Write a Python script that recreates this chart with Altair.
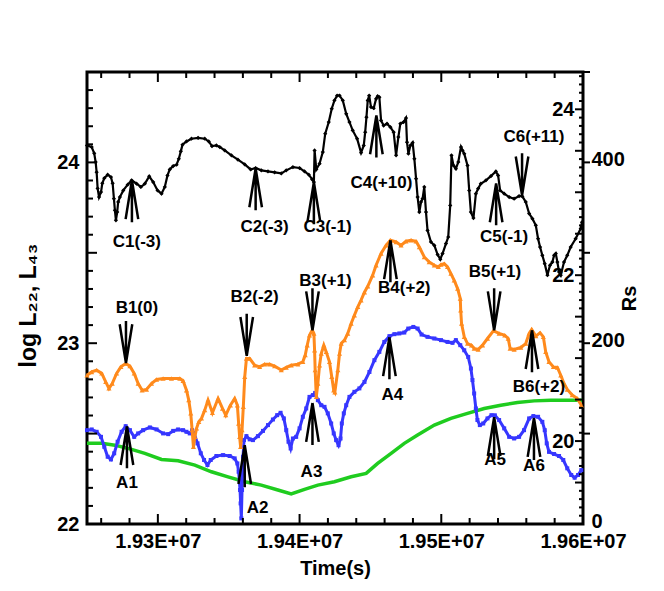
import altair as alt
import pandas as pd

# ---- data (time in units of 1E+07 s) ----
black_t = [1.92500, 1.92533, 1.92551, 1.92561, 1.92568, 1.92575, 1.92585, 1.92599, 1.92608, 1.92622,
           1.92646, 1.92669, 1.92681, 1.92690, 1.92697, 1.92704, 1.92713, 1.92720, 1.92732, 1.92756,
           1.92787, 1.92815, 1.92850, 1.92880, 1.92908, 1.92939, 1.92967, 1.92998, 1.93026, 1.93049,
           1.93068, 1.93084, 1.93108, 1.93132, 1.93148, 1.93162, 1.93174, 1.93202, 1.93237, 1.93284,
           1.93331, 1.93359, 1.93382, 1.93413, 1.93437, 1.93472, 1.93519, 1.93565, 1.93613, 1.93655,
           1.93690, 1.93730, 1.93777, 1.93824, 1.93871, 1.93906, 1.93953, 1.94000, 1.94035, 1.94065,
           1.94089, 1.94101, 1.94106, 1.94118, 1.94141, 1.94164, 1.94181, 1.94206, 1.94227, 1.94246,
           1.94265, 1.94282, 1.94305, 1.94329, 1.94352, 1.94375, 1.94406, 1.94434, 1.94453, 1.94463,
           1.94472, 1.94481, 1.94491, 1.94504, 1.94523, 1.94540, 1.94551, 1.94563, 1.94575, 1.94593,
           1.94617, 1.94641, 1.94664, 1.94681, 1.94697, 1.94711, 1.94734, 1.94751, 1.94758, 1.94768,
           1.94782, 1.94798, 1.94810, 1.94822, 1.94833, 1.94845, 1.94857, 1.94868, 1.94880, 1.94892,
           1.94903, 1.94927, 1.94951, 1.94974, 1.94993, 1.95009, 1.95033, 1.95049, 1.95063, 1.95072,
           1.95086, 1.95103, 1.95120, 1.95139, 1.95150, 1.95162, 1.95185, 1.95197, 1.95209, 1.95227,
           1.95244, 1.95260, 1.95279, 1.95315, 1.95350, 1.95385, 1.95401, 1.95415, 1.95444, 1.95479,
           1.95514, 1.95549, 1.95572, 1.95596, 1.95620, 1.95643, 1.95667, 1.95683, 1.95697, 1.95713,
           1.95730, 1.95749, 1.95767, 1.95784, 1.95796, 1.95808, 1.95819, 1.95831, 1.95843, 1.95866,
           1.95889, 1.95913, 1.95948, 1.95984, 1.95993]
black_v = [24.094, 24.085, 24.050, 24.002, 23.946, 23.856, 23.808, 23.836, 23.884, 23.913,
           23.932, 23.919, 23.884, 23.799, 23.735, 23.680, 23.725, 23.781, 23.808, 23.845,
           23.877, 23.901, 23.882, 23.864, 23.882, 23.923, 23.891, 23.845, 23.827, 23.864,
           23.928, 23.961, 23.980, 23.987, 24.020, 24.061, 24.098, 24.116, 24.131, 24.136,
           24.131, 24.116, 24.090, 24.094, 24.085, 24.066, 24.039, 24.015, 23.989, 23.961,
           23.969, 23.956, 23.950, 23.945, 23.939, 23.956, 23.974, 23.969, 23.950, 23.932,
           23.906, 23.891, 24.066, 23.961, 23.993, 24.057, 24.159, 24.223, 24.297, 24.343,
           24.370, 24.370, 24.343, 24.269, 24.223, 24.177, 24.131, 24.054, 24.094, 24.167,
           24.250, 24.343, 24.370, 24.306, 24.300, 24.352, 24.366, 24.361, 24.232, 24.204,
           24.214, 24.195, 24.167, 24.039, 24.140, 24.214, 24.223, 24.245, 24.112, 24.048,
           24.094, 24.109, 24.020, 23.910, 23.808, 23.725, 23.781, 23.799, 23.864, 23.725,
           23.624, 23.560, 23.541, 23.490, 23.464, 23.496, 23.551, 23.587, 23.762, 24.039,
           23.983, 23.965, 24.002, 24.085, 24.066, 24.048, 23.983, 23.845, 23.725, 23.692,
           23.827, 23.855, 23.882, 23.901, 23.924, 23.950, 23.928, 23.845, 23.827, 23.808,
           23.799, 23.814, 23.812, 23.781, 23.717, 23.689, 23.652, 23.578, 23.532, 23.486,
           23.440, 23.376, 23.431, 23.449, 23.486, 23.496, 23.449, 23.394, 23.376, 23.449,
           23.486, 23.532, 23.578, 23.634, 23.669]

orange_t = [1.92500, 1.92533, 1.92568, 1.92604, 1.92632, 1.92655, 1.92678, 1.92709, 1.92739, 1.92773,
            1.92803, 1.92833, 1.92861, 1.92889, 1.92920, 1.92955, 1.92991, 1.93037, 1.93096, 1.93155,
            1.93178, 1.93202, 1.93218, 1.93232, 1.93242, 1.93251, 1.93261, 1.93273, 1.93289, 1.93308,
            1.93331, 1.93354, 1.93385, 1.93425, 1.93456, 1.93479, 1.93512, 1.93542, 1.93561, 1.93570,
            1.93577, 1.93584, 1.93594, 1.93603, 1.93613, 1.93625, 1.93648, 1.93683, 1.93718, 1.93753,
            1.93789, 1.93824, 1.93871, 1.93906, 1.93941, 1.93988, 1.94023, 1.94040, 1.94054, 1.94070,
            1.94089, 1.94101, 1.94106, 1.94110, 1.94118, 1.94129, 1.94141, 1.94153, 1.94171, 1.94188,
            1.94211, 1.94227, 1.94241, 1.94249, 1.94270, 1.94282, 1.94294, 1.94317, 1.94340, 1.94364,
            1.94387, 1.94411, 1.94434, 1.94458, 1.94481, 1.94516, 1.94540, 1.94575, 1.94610, 1.94641,
            1.94681, 1.94716, 1.94751, 1.94787, 1.94822, 1.94845, 1.94880, 1.94915, 1.94951, 1.94979,
            1.94998, 1.95021, 1.95044, 1.95068, 1.95091, 1.95115, 1.95134, 1.95137, 1.95143, 1.95162,
            1.95185, 1.95213, 1.95232, 1.95260, 1.95291, 1.95326, 1.95368, 1.95408, 1.95448, 1.95472,
            1.95486, 1.95514, 1.95561, 1.95596, 1.95620, 1.95638, 1.95667, 1.95697, 1.95720, 1.95737,
            1.95760, 1.95791, 1.95819, 1.95843, 1.95866, 1.95889, 1.95924, 1.95960, 1.95988]
orange_v = [22.823, 22.841, 22.851, 22.833, 22.786, 22.750, 22.777, 22.833, 22.869, 22.888,
            22.873, 22.833, 22.777, 22.740, 22.744, 22.777, 22.799, 22.805, 22.805, 22.805,
            22.792, 22.740, 22.685, 22.612, 22.519, 22.427, 22.482, 22.529, 22.565, 22.584,
            22.630, 22.685, 22.615, 22.694, 22.639, 22.602, 22.657, 22.694, 22.657, 22.556,
            22.482, 22.427, 22.519, 22.648, 22.814, 22.915, 22.915, 22.878, 22.869, 22.884,
            22.884, 22.873, 22.851, 22.866, 22.878, 22.884, 22.897, 22.934, 22.989, 23.044,
            23.072, 23.054, 22.961, 22.851, 22.703, 22.777, 22.878, 22.943, 22.989, 22.952,
            22.897, 22.814, 22.740, 22.729, 22.851, 22.943, 22.998, 23.017, 23.054, 23.109,
            23.155, 23.201, 23.238, 23.282, 23.315, 23.376, 23.431, 23.496, 23.541, 23.569,
            23.560, 23.541, 23.564, 23.569, 23.564, 23.532, 23.477, 23.449, 23.431, 23.422,
            23.435, 23.440, 23.422, 23.385, 23.348, 23.302, 23.247, 23.182, 23.109, 23.035,
            22.998, 22.989, 22.971, 22.965, 22.989, 23.026, 23.068, 23.054, 23.044, 23.026,
            22.971, 22.965, 22.976, 22.998, 23.054, 23.076, 23.039, 23.057, 23.035, 22.952,
            22.897, 22.869, 22.866, 22.823, 22.777, 22.744, 22.713, 22.694, 22.657]

blue_t = [1.92500, 1.92533, 1.92568, 1.92599, 1.92622, 1.92646, 1.92669, 1.92692, 1.92716, 1.92744,
          1.92773, 1.92803, 1.92833, 1.92861, 1.92896, 1.92944, 1.92991, 1.93037, 1.93073, 1.93108,
          1.93143, 1.93178, 1.93202, 1.93225, 1.93242, 1.93256, 1.93280, 1.93303, 1.93326, 1.93350,
          1.93373, 1.93413, 1.93460, 1.93507, 1.93542, 1.93561, 1.93570, 1.93580, 1.93584, 1.93589,
          1.93594, 1.93601, 1.93608, 1.93625, 1.93648, 1.93671, 1.93706, 1.93742, 1.93777, 1.93812,
          1.93842, 1.93866, 1.93889, 1.93906, 1.93922, 1.93937, 1.93953, 1.93976, 1.94000, 1.94023,
          1.94047, 1.94070, 1.94094, 1.94110, 1.94129, 1.94153, 1.94176, 1.94199, 1.94223, 1.94241,
          1.94258, 1.94275, 1.94289, 1.94298, 1.94312, 1.94329, 1.94352, 1.94387, 1.94422, 1.94458,
          1.94493, 1.94528, 1.94563, 1.94598, 1.94634, 1.94669, 1.94704, 1.94739, 1.94767, 1.94803,
          1.94833, 1.94861, 1.94903, 1.94951, 1.94998, 1.95044, 1.95079, 1.95103, 1.95134, 1.95162,
          1.95190, 1.95209, 1.95220, 1.95232, 1.95244, 1.95255, 1.95272, 1.95296, 1.95326, 1.95354,
          1.95378, 1.95408, 1.95444, 1.95479, 1.95514, 1.95549, 1.95584, 1.95620, 1.95650, 1.95683,
          1.95713, 1.95730, 1.95744, 1.95760, 1.95796, 1.95831, 1.95861, 1.95889, 1.95917, 1.95941,
          1.95965, 1.95988]
blue_v = [22.519, 22.523, 22.510, 22.482, 22.427, 22.372, 22.357, 22.391, 22.455, 22.510,
          22.541, 22.519, 22.482, 22.501, 22.519, 22.534, 22.523, 22.501, 22.497, 22.515,
          22.523, 22.519, 22.510, 22.501, 22.519, 22.501, 22.446, 22.391, 22.354, 22.326,
          22.354, 22.376, 22.381, 22.376, 22.363, 22.335, 22.289, 22.188, 22.114, 22.031,
          22.188, 22.372, 22.464, 22.486, 22.468, 22.464, 22.486, 22.515, 22.547, 22.578,
          22.602, 22.615, 22.584, 22.519, 22.455, 22.418, 22.473, 22.482, 22.529, 22.593,
          22.639, 22.703, 22.713, 22.725, 22.685, 22.657, 22.648, 22.612, 22.556, 22.501,
          22.464, 22.436, 22.473, 22.556, 22.612, 22.657, 22.703, 22.731, 22.750, 22.786,
          22.841, 22.906, 22.952, 23.007, 23.039, 23.050, 23.054, 23.059, 23.081, 23.090,
          23.081, 23.048, 23.035, 23.026, 23.017, 23.007, 23.002, 23.017, 22.989, 22.961,
          22.924, 22.860, 22.796, 22.722, 22.639, 22.575, 22.547, 22.556, 22.584, 22.602,
          22.601, 22.575, 22.529, 22.482, 22.473, 22.482, 22.519, 22.584, 22.597, 22.593,
          22.565, 22.519, 22.446, 22.399, 22.387, 22.376, 22.354, 22.308, 22.271, 22.256,
          22.271, 22.298]

green_t = [1.92500, 1.92604, 1.92697, 1.92791, 1.92908, 1.93026, 1.93143, 1.93261, 1.93378, 1.93495,
           1.93613, 1.93730, 1.93847, 1.93941, 1.94035, 1.94129, 1.94246, 1.94364, 1.94470, 1.94551,
           1.94646, 1.94739, 1.94833, 1.94951, 1.95068, 1.95185, 1.95303, 1.95420, 1.95537, 1.95655,
           1.95772, 1.95889, 1.95993]
green_v = [22.446, 22.446, 22.436, 22.418, 22.391, 22.357, 22.350, 22.326, 22.289, 22.261,
           22.234, 22.215, 22.188, 22.166, 22.192, 22.215, 22.234, 22.261, 22.280, 22.335,
           22.391, 22.446, 22.492, 22.547, 22.584, 22.612, 22.639, 22.657, 22.672, 22.681,
           22.685, 22.685, 22.685]

# annotations: arrow tip on the curve, arrow direction, label position
ann_name = ["C1(-3)", "C2(-3)", "C3(-1)", "C4(+10)", "C5(-1)", "C6(+11)",
            "B1(0)", "B2(-2)", "B3(+1)", "B4(+2)", "B5(+1)", "B6(+2)",
            "A1", "A2", "A3", "A4", "A5", "A6"]
ann_t = [1.92817, 1.93690, 1.94101, 1.94542, 1.95387, 1.95570,
         1.92775, 1.93627, 1.94091, 1.94641, 1.95373, 1.95640,
         1.92782, 1.93613, 1.94091, 1.94634, 1.95373, 1.95654]
ann_v = [23.901, 23.967, 23.890, 24.260, 23.884, 23.818,
         22.890, 22.930, 23.072, 23.569, 23.072, 23.072,
         22.541, 22.436, 22.669, 23.033, 22.591, 22.586]
ann_dir = ["up", "up", "up", "up", "up", "down",
           "down", "down", "down", "up", "down", "up",
           "up", "up", "up", "up", "up", "up"]
lab_t = [1.92852, 1.93753, 1.94197, 1.94577, 1.95443, 1.95654,
         1.92852, 1.93683, 1.94183, 1.94739, 1.95379, 1.95689,
         1.92782, 1.93704, 1.94084, 1.94654, 1.95379, 1.95654]
lab_v = [23.558, 23.641, 23.641, 23.884, 23.586, 24.138,
         23.193, 23.254, 23.343, 23.304, 23.392, 22.757,
         22.227, 22.088, 22.287, 22.713, 22.354, 22.320]

# axis tick positions
x_labels = [1.93, 1.94, 1.95, 1.96]
x_major = [1.93, 1.94, 1.95]
x_minor = [1.926, 1.928, 1.932, 1.934, 1.936, 1.938, 1.942, 1.944, 1.946, 1.948,
           1.952, 1.954, 1.956, 1.958]
y_labels = [22, 23, 24]
y_major = [22.5, 23.0, 23.5, 24.0]
y_minor = [22.1, 22.2, 22.3, 22.4, 22.6, 22.7, 22.8, 22.9, 23.1, 23.2, 23.3, 23.4,
           23.6, 23.7, 23.8, 23.9, 24.1, 24.2, 24.3, 24.4]
rs_labels = [0, 200, 400]
rs_major = [100, 200, 300, 400, 500]
in_labels = [20, 22, 24]
in_mid = [19.5, 20.0, 20.5, 21.0, 21.5, 22.0, 22.5, 23.0, 23.5, 24.0]
in_minor = [19.1, 19.2, 19.3, 19.4, 19.6, 19.7, 19.8, 19.9, 20.1, 20.2, 20.3, 20.4,
            20.6, 20.7, 20.8, 20.9, 21.1, 21.2, 21.3, 21.4, 21.6, 21.7, 21.8, 21.9,
            22.1, 22.2, 22.3, 22.4, 22.6, 22.7, 22.8, 22.9, 23.1, 23.2, 23.3, 23.4,
            23.6, 23.7, 23.8, 23.9, 24.1, 24.2, 24.3, 24.4]

# ---- layout / style ----
W, H = 496, 452
X_DOM = [1.925, 1.96]
Y_DOM = [22.0, 24.5]
RS_DOM = [0, 500]
IN_DOM = [19.0, 24.45]
FONT = "Liberation Sans"
BLACK, ORANGE, BLUE, GREEN = "#000000", "#ff8a1c", "#3636ff", "#1fcc1f"
TICK = "#000000"

ARROW_UP = "M0,0L0,2M0,0L-0.3,1.85M0,0L0.3,1.85"
ARROW_DOWN = "M0,0L0,-2M0,0L-0.3,-1.85M0,0L0.3,-1.85"


def sc(dom):
    return alt.Scale(domain=dom, nice=False, zero=False)


def X(field="t", axis=None, dom=X_DOM):
    return alt.X(f"{field}:Q", scale=sc(dom), axis=axis)


def Y(field="v", axis=None, dom=Y_DOM):
    return alt.Y(f"{field}:Q", scale=sc(dom), axis=axis)


lab_style = dict(labelFont=FONT, labelFontSize=20, labelFontWeight="bold", labelColor=BLACK,
                 labelOverlap=False, labelFlush=False, grid=False, domain=False, ticks=False)
title_style = dict(titleFont=FONT, titleFontWeight="bold", titleColor=BLACK)

df_black = pd.DataFrame({"t": black_t, "v": black_v})
df_orange = pd.DataFrame({"t": orange_t, "v": orange_v})
df_blue = pd.DataFrame({"t": blue_t, "v": blue_v})
df_green = pd.DataFrame({"t": green_t, "v": green_v})
df_ann = pd.DataFrame({"name": ann_name, "t": ann_t, "v": ann_v, "dir": ann_dir,
                       "lt": lab_t, "lv": lab_v})
dummy = pd.DataFrame({"t": [1.94], "v": [23.0], "r": [200.0], "w": [21.0]})


# ---- tick marks (positions through the scales, lengths in px) ----
def xticks(vals, length, top):
    d = pd.DataFrame({"tv": vals})
    y0, y1 = (0, length) if top else (H, H - length)
    return alt.Chart(d).mark_rule(color=TICK, strokeWidth=2, opacity=1).encode(
        x=X("tv"), y=alt.value(y0), y2=alt.value(y1))


def yticks(vals, length, x0, x1, dom=Y_DOM):
    d = pd.DataFrame({"tv": vals})
    return alt.Chart(d).mark_rule(color=TICK, strokeWidth=2, opacity=1).encode(
        y=Y("tv", dom=dom), x=alt.value(x0), x2=alt.value(x1))


tick_layers = [
    xticks(x_major, 10, False), xticks(x_minor, 6, False),
    xticks(x_major, 10, True), xticks(x_minor, 6, True),
    yticks(y_major, 10, 0, 10), yticks(y_minor, 6, 0, 6),
    yticks(rs_major, 7, W, W + 7, RS_DOM),
    yticks(in_mid, 8, W, W - 8, IN_DOM), yticks(in_minor, 4, W, W - 4, IN_DOM),
]

# ---- label axes ----
L1 = alt.Chart(dummy).mark_point(opacity=0).encode(
    x=X(axis=alt.Axis(orient="bottom", values=x_labels,
                      labelExpr="format(datum.value, '.2f') + 'E+07'",
                      labelPadding=7, title="Time(s)", titleFontSize=20, titleY=50,
                      titleBaseline="alphabetic", **lab_style, **title_style)),
    y=Y(axis=alt.Axis(orient="left", values=y_labels, labelPadding=8,
                      title="log L\u2082\u2082, L\u2084\u2083", titleFontSize=23, titleAngle=270,
                      titleX=-59, titleY=233, titleAlign="center", titleBaseline="middle",
                      **lab_style, **title_style)),
)
L2 = alt.Chart(dummy).mark_point(opacity=0).encode(
    x=X(axis=None),
    y=Y("r", dom=RS_DOM, axis=alt.Axis(orient="right", values=rs_labels, labelPadding=8,
                                       labelOffset=-3,
                                       title="Rs", titleFontSize=20, titleAngle=270,
                                       titleX=46, titleY=226, titleAlign="center",
                                       titleBaseline="middle", **lab_style, **title_style)),
)
L3 = alt.Chart(dummy).mark_point(opacity=0).encode(
    x=X(axis=None),
    y=Y("w", dom=IN_DOM, axis=alt.Axis(orient="left", offset=-W, values=in_labels,
                                       labelPadding=9, title=None, **lab_style)),
)

# ---- data layers ----
green = alt.Chart(df_green).mark_line(color=GREEN, strokeWidth=3.5).encode(x=X(), y=Y())
blue_l = alt.Chart(df_blue).mark_line(color=BLUE, strokeWidth=3).encode(x=X(), y=Y())
blue_p = alt.Chart(df_blue).mark_point(shape="square", filled=True, size=16, color=BLUE,
                                       opacity=1).encode(x=X(), y=Y())
orange_l = alt.Chart(df_orange).mark_line(color=ORANGE, strokeWidth=3).encode(x=X(), y=Y())
orange_p = alt.Chart(df_orange).mark_point(shape="triangle-up", filled=True, size=26,
                                           color=ORANGE, opacity=1).encode(x=X(), y=Y())
black_l = alt.Chart(df_black).mark_line(color=BLACK, strokeWidth=2.2).encode(x=X(), y=Y())
black_p = alt.Chart(df_black).mark_point(shape="diamond", filled=True, size=18, color=BLACK,
                                         opacity=1).encode(x=X(), y=Y())

arr_up = alt.Chart(df_ann).transform_filter("datum.dir == 'up'").mark_point(
    shape=ARROW_UP, size=1764, filled=False, stroke=BLACK, strokeWidth=2.5, opacity=1
).encode(x=X(), y=Y())
arr_dn = alt.Chart(df_ann).transform_filter("datum.dir == 'down'").mark_point(
    shape=ARROW_DOWN, size=1764, filled=False, stroke=BLACK, strokeWidth=2.5, opacity=1
).encode(x=X(), y=Y())
labels = alt.Chart(df_ann).mark_text(font=FONT, fontSize=17, fontWeight="bold", color=BLACK,
                                     align="center", baseline="middle").encode(
    x=X("lt"), y=Y("lv"), text="name:N")

chart = alt.layer(
    L1, L2, L3,
    green, blue_l, blue_p, orange_l, orange_p, black_l, black_p,
    arr_up, arr_dn, labels, *tick_layers,
).resolve_scale(x="independent", y="independent").properties(
    width=W, height=H,
    padding={"left": 79, "top": 64, "right": 60, "bottom": 62},
    autosize=alt.AutoSizeParams(type="none"),
).configure_view(stroke=BLACK, strokeWidth=3).configure_axis(grid=False)

chart.save("out.html", embed_options={"renderer": "svg", "actions": False})
